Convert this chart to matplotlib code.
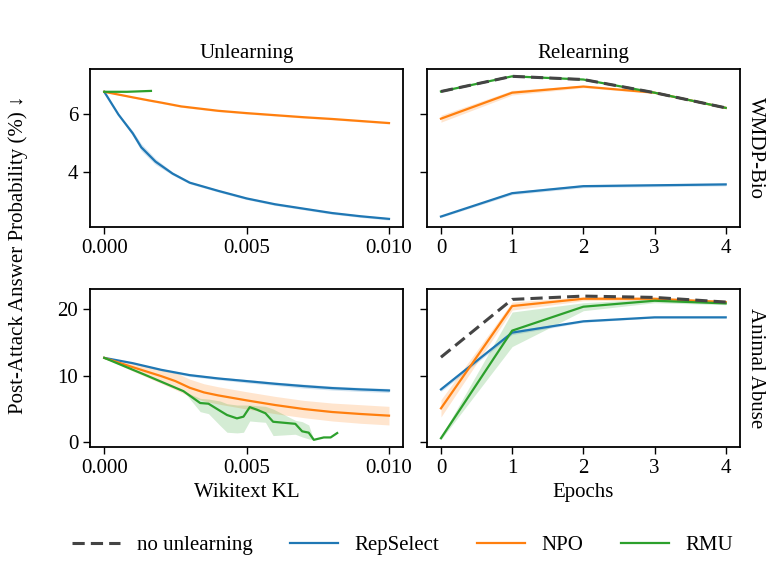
import numpy as np
import matplotlib
matplotlib.use('Agg')
import matplotlib.pyplot as plt
from matplotlib.lines import Line2D

plt.rcParams['font.family'] = ['Liberation Serif', 'DejaVu Serif']
plt.rcParams['font.size'] = 15

colors = {'RepSelect': '#1f77b4', 'NPO': '#ff7f0e', 'RMU': '#2ca02c'}
base_color = '#444444'

## WMDP-Bio, unlearning (x = Wikitext KL) ##
bio_rep_kl = [0.0, 0.0005, 0.001, 0.0013, 0.0018, 0.0024, 0.003, 0.004, 0.005,
              0.006, 0.007, 0.008, 0.009, 0.01]
bio_rep_val = [6.75, 5.97, 5.33, 4.85, 4.36, 3.95, 3.64, 3.36, 3.10,
               2.90, 2.75, 2.60, 2.49, 2.40]
bio_rep_err = [0.0, 0.03, 0.08, 0.12, 0.1, 0.05, 0.04, 0.04, 0.04,
               0.04, 0.04, 0.04, 0.04, 0.04]
bio_npo_kl = [0.0, 0.001, 0.0016, 0.002, 0.0027, 0.004, 0.005, 0.006, 0.007,
              0.008, 0.009, 0.01]
bio_npo_val = [6.75, 6.56, 6.45, 6.38, 6.25, 6.10, 6.02, 5.95, 5.88,
               5.82, 5.75, 5.68]
bio_npo_err = [0.0, 0.02, 0.03, 0.03, 0.03, 0.03, 0.03, 0.03, 0.03,
               0.03, 0.03, 0.03]
bio_rmu_kl = [0.0, 0.0008, 0.00164]
bio_rmu_val = [6.75, 6.75, 6.78]

## WMDP-Bio, relearning (x = epochs) ##
epochs = [0, 1, 2, 3, 4]
bio_base_re = [6.76, 7.28, 7.17, 6.72, 6.20]
bio_rep_re = [2.48, 3.28, 3.52, 3.55, 3.58]
bio_rep_re_err = [0.03, 0.05, 0.05, 0.05, 0.05]
bio_npo_re = [5.83, 6.72, 6.93, 6.72, 6.20]
bio_npo_re_err = [0.12, 0.08, 0.04, 0.03, 0.03]
bio_rmu_re = [6.76, 7.28, 7.17, 6.72, 6.20]

## Animal Abuse, unlearning ##
aa_rep_kl = [0.0, 0.001, 0.002, 0.003, 0.004, 0.005, 0.006, 0.007, 0.008, 0.009, 0.01]
aa_rep_val = [12.7, 11.9, 10.9, 10.1, 9.6, 9.2, 8.8, 8.45, 8.15, 7.95, 7.79]
aa_rep_err = [0.0, 0.1, 0.15, 0.2, 0.2, 0.25, 0.25, 0.3, 0.3, 0.3, 0.3]
aa_npo_kl = [0.0, 0.001, 0.002, 0.0025, 0.003, 0.0035, 0.004, 0.005, 0.006,
             0.007, 0.008, 0.009, 0.01]
aa_npo_val = [12.7, 11.3, 9.95, 9.2, 8.2, 7.5, 7.05, 6.3, 5.6,
              5.0, 4.55, 4.25, 4.0]
aa_npo_err = [0.0, 0.6, 1.1, 1.3, 1.3, 1.3, 1.3, 1.3, 1.3,
              1.3, 1.35, 1.4, 1.4]
aa_rmu_kl = [0.0, 0.0014, 0.00278, 0.00337, 0.00366, 0.00407, 0.00431, 0.00466,
             0.00489, 0.00511, 0.00536, 0.00566, 0.00593, 0.00671, 0.00695,
             0.00718, 0.00736, 0.00771, 0.00795, 0.00818]
aa_rmu_val = [12.7, 10.2, 7.69, 5.9, 5.8, 4.72, 4.1, 3.59,
              3.85, 5.28, 4.9, 4.36, 3.08, 2.77, 1.64,
              1.44, 0.36, 0.72, 0.72, 1.38]
aa_rmu_lo = [12.7, 10.2, 7.69, 4.6, 4.3, 2.5, 1.5, 1.4,
             1.5, 3.2, 3.1, 3.0, 1.0, 1.2, 0.8,
             0.5, 0.36, 0.72, 0.72, 1.38]
aa_rmu_hi = [12.7, 10.2, 7.69, 6.6, 6.5, 6.2, 5.8, 5.6,
             5.6, 5.6, 5.5, 5.4, 5.0, 3.3, 3.1,
             2.6, 0.36, 0.72, 0.72, 1.38]

## Animal Abuse, relearning ##
aa_base_re = [12.8, 21.5, 22.0, 21.8, 21.1]
aa_rep_re = [7.95, 16.5, 18.2, 18.8, 18.8]
aa_rep_re_err = [0.3, 0.3, 0.15, 0.1, 0.1]
aa_npo_re = [5.1, 20.5, 21.6, 21.6, 21.1]
aa_npo_re_err = [1.3, 0.6, 0.3, 0.2, 0.2]
aa_rmu_re = [0.6, 16.8, 20.4, 21.3, 20.9]
aa_rmu_re_lo = [0.4, 14.4, 19.8, 21.0, 20.7]
aa_rmu_re_hi = [0.8, 19.6, 21.0, 21.6, 21.1]

fig, axes = plt.subplots(2, 2, figsize=(7.74, 5.62), dpi=100, sharey='row')
fig.subplots_adjust(left=0.1163, right=0.956, top=0.877, bottom=0.2046,
                    wspace=0.075, hspace=0.39)


def band(ax, x, y, err, c, alpha=0.2):
    y = np.array(y); err = np.array(err)
    ax.fill_between(x, y - err, y + err, color=c, alpha=alpha, lw=0)


lw = 1.6
dash = (0, (4, 2))

# top-left
ax = axes[0, 0]
band(ax, bio_rep_kl, bio_rep_val, bio_rep_err, colors['RepSelect'])
ax.plot(bio_rep_kl, bio_rep_val, color=colors['RepSelect'], lw=lw)
band(ax, bio_npo_kl, bio_npo_val, bio_npo_err, colors['NPO'])
ax.plot(bio_npo_kl, bio_npo_val, color=colors['NPO'], lw=lw)
ax.plot(bio_rmu_kl, bio_rmu_val, color=colors['RMU'], lw=lw)
ax.set_title('Unlearning', fontsize=15, pad=8)

# top-right
ax = axes[0, 1]
band(ax, epochs, bio_rep_re, bio_rep_re_err, colors['RepSelect'])
ax.plot(epochs, bio_rep_re, color=colors['RepSelect'], lw=lw)
band(ax, epochs, bio_npo_re, bio_npo_re_err, colors['NPO'])
ax.plot(epochs, bio_npo_re, color=colors['NPO'], lw=lw)
ax.plot(epochs, bio_rmu_re, color=colors['RMU'], lw=lw)
ax.plot(epochs, bio_base_re, color=base_color, lw=2.2, ls=dash)
ax.set_title('Relearning', fontsize=15, pad=8)

# bottom-left
ax = axes[1, 0]
band(ax, aa_rep_kl, aa_rep_val, aa_rep_err, colors['RepSelect'])
ax.plot(aa_rep_kl, aa_rep_val, color=colors['RepSelect'], lw=lw)
band(ax, aa_npo_kl, aa_npo_val, aa_npo_err, colors['NPO'])
ax.plot(aa_npo_kl, aa_npo_val, color=colors['NPO'], lw=lw)
ax.fill_between(aa_rmu_kl, aa_rmu_lo, aa_rmu_hi, color=colors['RMU'], alpha=0.2, lw=0)
ax.plot(aa_rmu_kl, aa_rmu_val, color=colors['RMU'], lw=lw)
ax.set_xlabel('Wikitext KL')

# bottom-right
ax = axes[1, 1]
band(ax, epochs, aa_rep_re, aa_rep_re_err, colors['RepSelect'])
ax.plot(epochs, aa_rep_re, color=colors['RepSelect'], lw=lw)
band(ax, epochs, aa_npo_re, aa_npo_re_err, colors['NPO'])
ax.plot(epochs, aa_npo_re, color=colors['NPO'], lw=lw)
ax.fill_between(epochs, aa_rmu_re_lo, aa_rmu_re_hi, color=colors['RMU'], alpha=0.2, lw=0)
ax.plot(epochs, aa_rmu_re, color=colors['RMU'], lw=lw)
ax.plot(epochs, aa_base_re, color=base_color, lw=2.2, ls=dash)
ax.set_xlabel('Epochs')

for ax in axes[:, 0]:
    ax.set_xticks([0.0, 0.005, 0.010])
    ax.set_xticklabels(['0.000', '0.005', '0.010'])
for ax in axes[:, 1]:
    ax.set_xticks(epochs)
axes[0, 0].set_yticks([4, 6])
axes[1, 0].set_yticks([0, 10, 20])

for ax in axes.flat:
    for s in ax.spines.values():
        s.set_linewidth(1.3)
    ax.tick_params(labelsize=15, width=1.0, length=5)

axes[0, 1].yaxis.set_label_position('right')
axes[0, 1].set_ylabel('WMDP-Bio', rotation=-90, labelpad=18)
axes[1, 1].yaxis.set_label_position('right')
axes[1, 1].set_ylabel('Animal Abuse', rotation=-90, labelpad=18)

fig.text(0.024, 0.546, 'Post-Attack Answer Probability (%) ↓', rotation=90,
         ha='center', va='center', fontsize=15)

handles = [Line2D([], [], color=base_color, lw=2.2, ls=dash),
           Line2D([], [], color=colors['RepSelect'], lw=lw),
           Line2D([], [], color=colors['NPO'], lw=lw),
           Line2D([], [], color=colors['RMU'], lw=lw)]
fig.legend(handles, ['no unlearning', 'RepSelect', 'NPO', 'RMU'], loc='center',
           bbox_to_anchor=(0.52, 0.03), ncol=4, frameon=False, fontsize=15,
           columnspacing=1.8, handlelength=2.3)

fig.savefig('out.png', dpi=100)
